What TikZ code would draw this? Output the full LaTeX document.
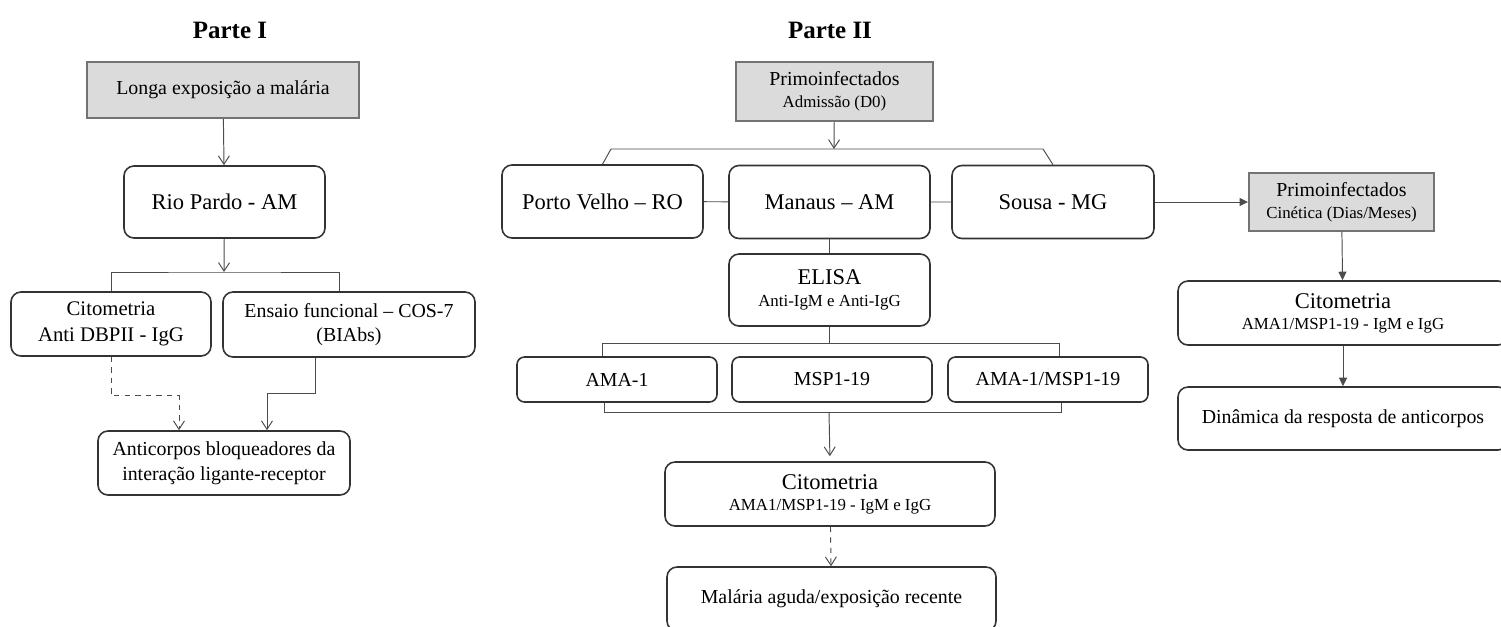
\documentclass[tikz,border=0pt]{standalone}
\usepackage{fontspec}
\setmainfont{Liberation Serif}
\usetikzlibrary{arrows.meta}

\begin{document}
\begin{tikzpicture}[x=0.2mm,y=-0.2mm]
    \tikzstyle{caixa}=[draw=black!80, line width=0.9pt, rounded corners=2mm, inner sep=0pt, align=center, font=\fontsize{11.3}{14}\selectfont]
    \tikzstyle{cinza}=[draw=black!55, line width=1.1pt, fill=black!14, inner sep=0pt, align=center, font=\fontsize{11.3}{12.5}\selectfont]
    \tikzstyle{titulo}=[font=\fontsize{14.2}{16}\selectfont\bfseries]
    \tikzstyle{grande}=[font=\fontsize{12.8}{15}\selectfont]
    \tikzstyle{liga}=[draw=black!70, line width=0.55pt]
    \tikzstyle{seta}=[liga, -{Straight Barb[length=1.7mm,width=2.2mm]}]
    \tikzstyle{cheia}=[liga, -{Triangle[length=1.7mm,width=1.6mm]}]
    \useasboundingbox (0,0) rectangle (1501,627);
    \node[titulo] (parte1) at (230,30) {Parte I};
    \node[titulo] (parte2) at (830,30) {Parte II};
    \node[cinza, minimum width=54.4mm, minimum height=11.2mm] (longa) at (223,90) {Longa exposição a malária};
    \node[caixa, grande, minimum width=40.2mm, minimum height=14.4mm] (rio) at (224.5,202) {Rio Pardo - AM};
    \node[caixa, minimum width=40mm, minimum height=12.8mm, font=\fontsize{11.8}{14.6}\selectfont] (cito1) at (111,324) {Citometria\\Anti DBPII - IgG};
    \node[caixa, minimum width=50.4mm, minimum height=13mm] (ensaio) at (349,324.5) {Ensaio funcional -- COS-7\\(BIAbs)};
    \node[caixa, minimum width=50.4mm, minimum height=12.8mm] (anti) at (224,463) {Anticorpos bloqueadores da\\interação ligante-receptor};
    \node[cinza, minimum width=39.4mm, minimum height=11.8mm] (primo) at (834.5,91.5) {Primoinfectados\\{\fontsize{9.6}{12.5}\selectfont Admissão (D0)}};
    \node[caixa, grande, minimum width=40.2mm, minimum height=14.6mm] (porto) at (602.5,201.5) {Porto Velho -- RO};
    \node[caixa, grande, minimum width=40.2mm, minimum height=14.6mm] (manaus) at (829.5,202) {Manaus -- AM};
    \node[caixa, grande, minimum width=40.4mm, minimum height=14.6mm] (sousa) at (1053,202) {Sousa - MG};
    \node[cinza, minimum width=37mm, minimum height=11.6mm] (primo2) at (1341.5,202) {Primoinfectados\\{\fontsize{9.6}{12.5}\selectfont Cinética (Dias/Meses)}};
    \node[caixa, minimum width=40.2mm, minimum height=14.4mm, font=\fontsize{12.8}{12.5}\selectfont] (elisa) at (829.5,290) {ELISA\\{\fontsize{9.6}{12.5}\selectfont Anti-IgM e Anti-IgG}};
    \node[caixa, rounded corners=1.5mm, minimum width=40mm, minimum height=9mm] (ama) at (617,379.5) {AMA-1};
    \node[caixa, rounded corners=1.5mm, minimum width=40mm, minimum height=9mm] (msp) at (832,379.5) {MSP1-19};
    \node[caixa, rounded corners=1.5mm, minimum width=40mm, minimum height=9mm] (amamsp) at (1048,379.5) {AMA-1/MSP1-19};
    \node[caixa, minimum width=66mm, minimum height=12.8mm, font=\fontsize{12.8}{12}\selectfont] (cito2) at (830,494) {Citometria\\{\fontsize{9.6}{12}\selectfont AMA1/MSP1-19 - IgM e IgG}};
    \node[caixa, minimum width=65.8mm, minimum height=12.8mm] (malaria) at (831.5,599) {Malária aguda/exposição recente};
    \node[caixa, minimum width=66mm, minimum height=12.8mm, font=\fontsize{12.8}{12}\selectfont] (cito3) at (1343,313) {Citometria\\{\fontsize{9.6}{12}\selectfont AMA1/MSP1-19 - IgM e IgG}};
    \node[caixa, minimum width=66mm, minimum height=12.6mm] (dinam) at (1343,418.5) {Dinâmica da resposta de anticorpos};
    \coordinate (j1) at (224,272);
    \coordinate (j2) at (834,149);
    \coordinate (b2l) at (611,149);
    \coordinate (b2r) at (1043,149);
    \coordinate (j3) at (829,412);
    \draw[seta] (longa) -- (rio);
    \draw[seta] (rio) -- (j1);
    \draw[liga] (cito1.north) |- (j1) -| ([xshift=-2mm]ensaio.north);
    \draw[seta, dashed] (cito1.south) -- ++(0,39) -| ([xshift=-9mm]anti.north);
    \draw[seta] ([xshift=-6.8mm]ensaio.south) -- ++(0,36) -| ([xshift=8.6mm]anti.north);
    \draw[seta] (primo) -- (j2);
    \draw[liga] (porto.north) -- (b2l) -- (b2r) -- (sousa.north);
    \draw[liga] (porto) -- (manaus) -- (sousa);
    \draw[liga] (manaus) -- (elisa);
    \draw[liga] (elisa) -- ++(0,54);
    \draw[liga] ([xshift=-3mm]ama.north) -- ++(0,-13) -| ([xshift=2.2mm]amamsp.north);
    \draw[liga] ([xshift=-2.6mm]ama.south) -- ++(0,10) -| ([xshift=2.6mm]amamsp.south);
    \draw[seta, shorten >=1mm] (j3) -- (cito2.north);
    \draw[seta, dashed] (cito2) -- (malaria);
    \draw[cheia] (sousa) -- (primo2);
    \draw[cheia] (primo2) -- (cito3);
    \draw[cheia] (cito3) -- (dinam);
\end{tikzpicture}
\end{document}
